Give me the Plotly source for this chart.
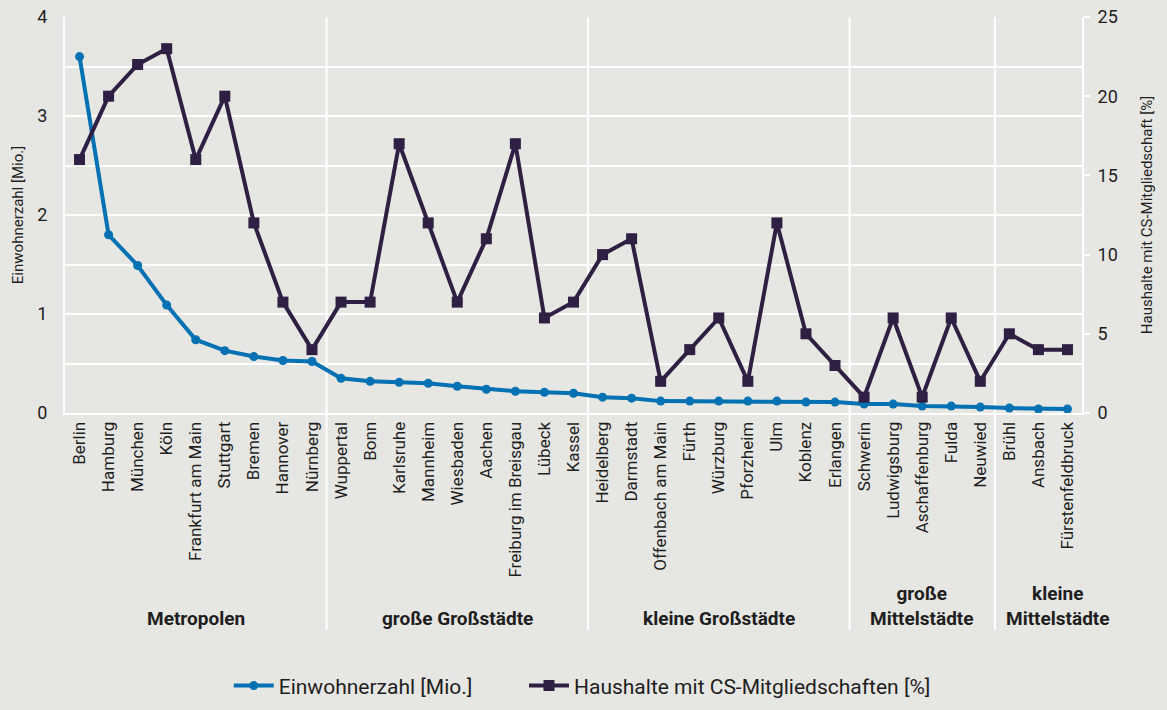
import plotly.graph_objects as go

cities = ["Berlin", "Hamburg", "München", "Köln", "Frankfurt am Main", "Stuttgart", "Bremen",
          "Hannover", "Nürnberg", "Wuppertal", "Bonn", "Karlsruhe", "Mannheim", "Wiesbaden",
          "Aachen", "Freiburg im Breisgau", "Lübeck", "Kassel", "Heidelberg", "Darmstadt",
          "Offenbach am Main", "Fürth", "Würzburg", "Pforzheim", "Ulm", "Koblenz", "Erlangen",
          "Schwerin", "Ludwigsburg", "Aschaffenburg", "Fulda", "Neuwied", "Brühl", "Ansbach",
          "Fürstenfeldbruck"]

einwohner = [3.60, 1.80, 1.49, 1.09, 0.74, 0.63, 0.57, 0.53, 0.52, 0.35, 0.32, 0.31, 0.30,
             0.27, 0.24, 0.22, 0.21, 0.20, 0.16, 0.15, 0.12, 0.12, 0.12, 0.12, 0.12, 0.11,
             0.11, 0.09, 0.09, 0.07, 0.07, 0.06, 0.05, 0.04, 0.04]

haushalte = [16, 20, 22, 23, 16, 20, 12, 7, 4, 7, 7, 17, 12, 7, 11, 17, 6, 7, 10, 11, 2, 4,
             6, 2, 12, 5, 3, 1, 6, 1, 6, 2, 5, 4, 4]

group_names = ["Metropolen", "große Großstädte", "kleine Großstädte",
               "große<br>Mittelstädte", "kleine<br>Mittelstädte"]
group_sizes = [9, 9, 9, 5, 3]

BG = "#e6e6e2"
BLUE = "#0071b2"
PURPLE = "#2f1f42"
TXT = "#1e1e1e"
FONT = "Roboto"

fig = go.Figure()
fig.add_trace(go.Scatter(
    x=cities, y=einwohner, name="Einwohnerzahl [Mio.]", mode="lines+markers",
    line=dict(color=BLUE, width=4), marker=dict(symbol="circle", size=9, color=BLUE),
    yaxis="y", legend="legend"))
fig.add_trace(go.Scatter(
    x=cities, y=haushalte, name="Haushalte mit CS-Mitgliedschaften [%]", mode="lines+markers",
    line=dict(color=PURPLE, width=4), marker=dict(symbol="square", size=11, color=PURPLE),
    yaxis="y2", legend="legend2"))

# group separators and labels
start = 0
shapes = []
annotations = []
for i, (name, n) in enumerate(zip(group_names, group_sizes)):
    end = start + n
    if i < len(group_sizes) - 1:
        shapes.append(dict(type="line", xref="x", yref="paper", x0=end - 0.5, x1=end - 0.5,
                           y0=-0.548, y1=1, line=dict(color="white", width=2), layer="below"))
    annotations.append(dict(xref="x", yref="paper", x=(start + end - 1) / 2, y=-0.553,
                            yanchor="bottom", xanchor="center", text="<b>" + name + "</b>",
                            showarrow=False, xshift=20 if i == len(group_sizes) - 1 else 0,
                            font=dict(family=FONT, size=19, color=TXT)))
    start = end

legend_style = dict(orientation="h", xref="container", yref="container", y=0.005,
                    yanchor="bottom", xanchor="left",
                    font=dict(family=FONT, size=21, color=TXT), itemwidth=40,
                    bgcolor="rgba(0,0,0,0)")

fig.update_layout(
    width=1167, height=710,
    margin=dict(l=65, r=85, t=17, b=297, autoexpand=False),
    paper_bgcolor=BG, plot_bgcolor=BG,
    font=dict(family=FONT, color=TXT),
    showlegend=True,
    legend=dict(x=0.196, **legend_style),
    legend2=dict(x=0.449, **legend_style),
    xaxis=dict(type="category", range=[-0.5, 34.5], tickangle=-90, showgrid=False,
               showline=True, linecolor="white", linewidth=2, ticks="",
               tickfont=dict(family=FONT, size=17, color=TXT), zeroline=False),
    yaxis=dict(range=[0, 4], dtick=1, showgrid=True, gridcolor="white", gridwidth=2,
               minor=dict(dtick=0.5, showgrid=True, gridcolor="white", gridwidth=2),
               showline=True, linecolor="white", linewidth=2, zeroline=False,
               ticklabelstandoff=12,
               tickfont=dict(family=FONT, size=18, color=TXT),
               title=dict(text="Einwohnerzahl [Mio.]", standoff=10,
                          font=dict(family=FONT, size=15, color=TXT))),
    yaxis2=dict(range=[0, 25], dtick=5, overlaying="y", side="right", showgrid=False,
                showline=True, linecolor="white", linewidth=2, zeroline=False,
                ticks="outside", ticklen=6, tickcolor="white", tickwidth=2,
                ticklabelstandoff=4,
                tickfont=dict(family=FONT, size=18, color=TXT),
                title=dict(text="Haushalte mit CS-Mitgliedschaft [%]", standoff=25,
                           font=dict(family=FONT, size=15, color=TXT))),
    shapes=shapes,
    annotations=annotations,
)

fig.write_html("out.html", config={"displayModeBar": False},
               post_script="document.body.style.margin='0px';")
